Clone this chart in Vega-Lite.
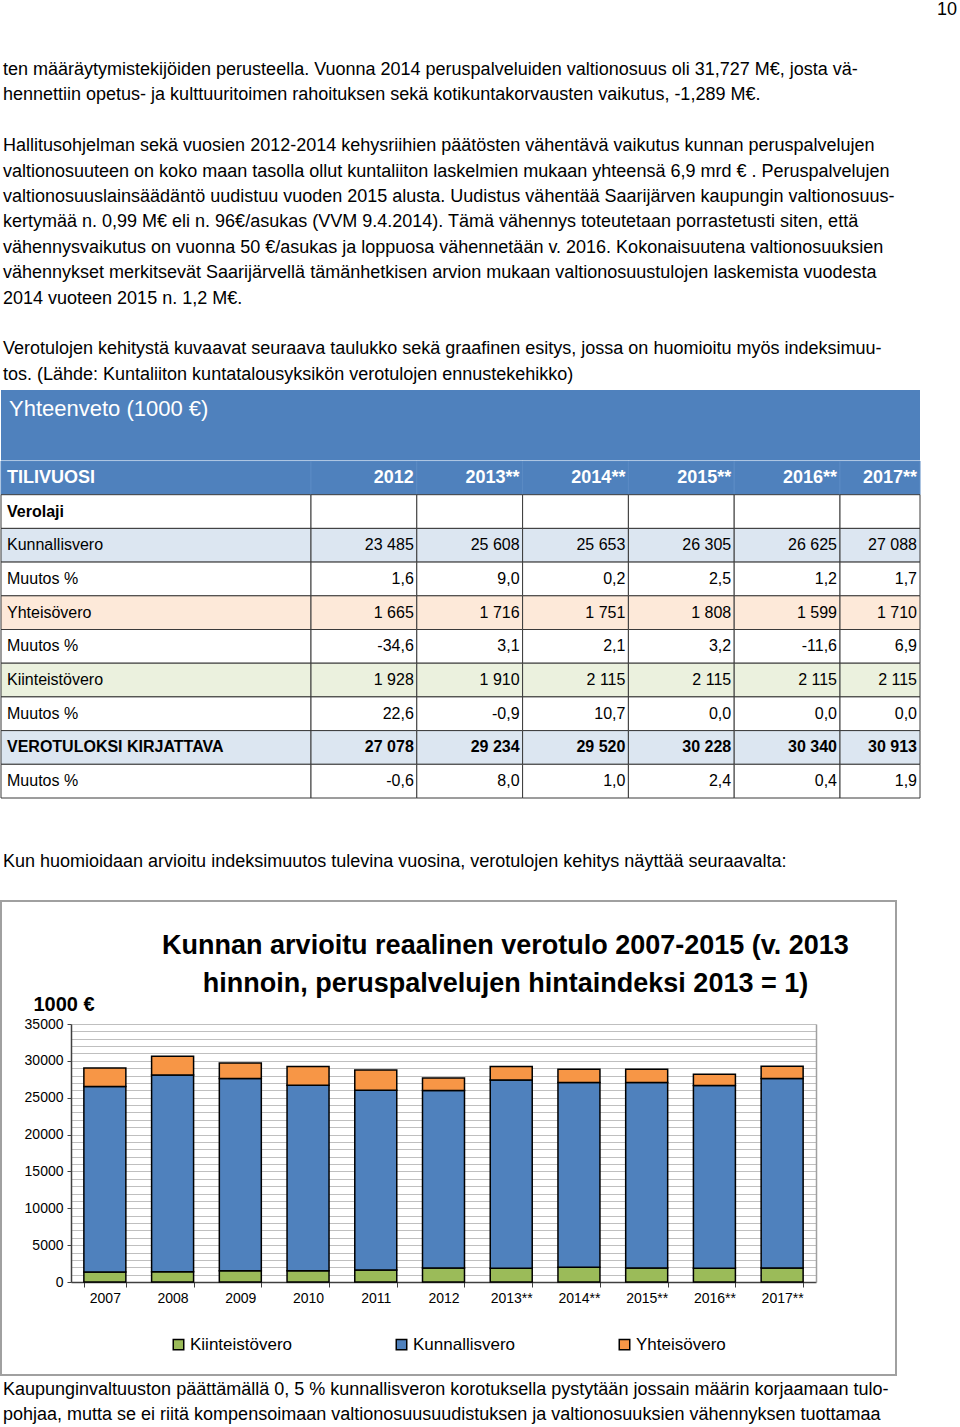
{
  "$schema": "https://vega.github.io/schema/vega-lite/v6.json",
  "padding": 0,
  "spacing": 0,
  "bounds": "full",
  "config": {"view": {"stroke": null}, "font": "Liberation Sans", "background": "white"},
  "datasets": {
    "top": [
      {"side": "right", "line": -2.36, "text": "10"},
      {"side": "left", "line": 0, "text": "ten määräytymistekijöiden perusteella.  Vuonna 2014 peruspalveluiden valtionosuus oli 31,727 M€, josta vä-"},
      {"side": "left", "line": 1, "text": "hennettiin opetus- ja kulttuuritoimen rahoituksen sekä kotikuntakorvausten vaikutus, -1,289 M€."},
      {"side": "left", "line": 3, "text": "Hallitusohjelman sekä vuosien 2012-2014 kehysriihien päätösten vähentävä vaikutus kunnan peruspalvelujen"},
      {"side": "left", "line": 4, "text": "valtionosuuteen on koko maan tasolla ollut kuntaliiton laskelmien mukaan yhteensä 6,9 mrd € . Peruspalvelujen"},
      {"side": "left", "line": 5, "text": "valtionosuuslainsäädäntö uudistuu vuoden 2015 alusta. Uudistus vähentää Saarijärven kaupungin valtionosuus-"},
      {"side": "left", "line": 6, "text": "kertymää n. 0,99 M€ eli n. 96€/asukas (VVM 9.4.2014). Tämä vähennys toteutetaan porrastetusti siten, että"},
      {"side": "left", "line": 7, "text": "vähennysvaikutus on vuonna 50 €/asukas ja loppuosa vähennetään v. 2016.  Kokonaisuutena valtionosuuksien"},
      {"side": "left", "line": 8, "text": "vähennykset merkitsevät Saarijärvellä tämänhetkisen arvion mukaan valtionosuustulojen laskemista vuodesta"},
      {"side": "left", "line": 9, "text": "2014 vuoteen 2015 n. 1,2 M€."},
      {"side": "left", "line": 11, "text": "Verotulojen kehitystä kuvaavat seuraava taulukko sekä graafinen esitys, jossa on huomioitu myös indeksimuu-"},
      {"side": "left", "line": 12, "text": "tos. (Lähde: Kuntaliiton kuntatalousyksikön verotulojen ennustekehikko)"}
    ],
    "mid": [
      {"side": "left", "line": 0, "text": "Kun huomioidaan arvioitu indeksimuutos tulevina vuosina, verotulojen kehitys näyttää seuraavalta:"}
    ],
    "bottom": [
      {"side": "left", "line": 0, "text": "Kaupunginvaltuuston päättämällä 0, 5 % kunnallisveron korotuksella pystytään jossain määrin korjaamaan tulo-"},
      {"side": "left", "line": 1, "text": "pohjaa, mutta se ei riitä kompensoimaan valtionosuusuudistuksen ja valtionosuuksien vähennyksen tuottamaa"}
    ],
    "rows": [
      {"id": 1, "label": "TILIVUOSI", "grp": "head"},
      {"id": 2, "label": "Verolaji", "grp": "plainb"},
      {"id": 3, "label": "Kunnallisvero", "grp": "kun"},
      {"id": 4, "label": "Muutos %", "grp": "plain"},
      {"id": 5, "label": "Yhteisövero", "grp": "yht"},
      {"id": 6, "label": "Muutos %", "grp": "plain"},
      {"id": 7, "label": "Kiinteistövero", "grp": "kii"},
      {"id": 8, "label": "Muutos %", "grp": "plain"},
      {"id": 9, "label": "VEROTULOKSI KIRJATTAVA", "grp": "tot"},
      {"id": 10, "label": "Muutos %", "grp": "plain"}
    ],
    "cells": [
      {"id": 1, "col": "2012", "v": "2012"}, {"id": 1, "col": "2013**", "v": "2013**"}, {"id": 1, "col": "2014**", "v": "2014**"}, {"id": 1, "col": "2015**", "v": "2015**"}, {"id": 1, "col": "2016**", "v": "2016**"}, {"id": 1, "col": "2017**", "v": "2017**"},
      {"id": 2, "col": "2012", "v": ""}, {"id": 2, "col": "2013**", "v": ""}, {"id": 2, "col": "2014**", "v": ""}, {"id": 2, "col": "2015**", "v": ""}, {"id": 2, "col": "2016**", "v": ""}, {"id": 2, "col": "2017**", "v": ""},
      {"id": 3, "col": "2012", "v": "23 485"}, {"id": 3, "col": "2013**", "v": "25 608"}, {"id": 3, "col": "2014**", "v": "25 653"}, {"id": 3, "col": "2015**", "v": "26 305"}, {"id": 3, "col": "2016**", "v": "26 625"}, {"id": 3, "col": "2017**", "v": "27 088"},
      {"id": 4, "col": "2012", "v": "1,6"}, {"id": 4, "col": "2013**", "v": "9,0"}, {"id": 4, "col": "2014**", "v": "0,2"}, {"id": 4, "col": "2015**", "v": "2,5"}, {"id": 4, "col": "2016**", "v": "1,2"}, {"id": 4, "col": "2017**", "v": "1,7"},
      {"id": 5, "col": "2012", "v": "1 665"}, {"id": 5, "col": "2013**", "v": "1 716"}, {"id": 5, "col": "2014**", "v": "1 751"}, {"id": 5, "col": "2015**", "v": "1 808"}, {"id": 5, "col": "2016**", "v": "1 599"}, {"id": 5, "col": "2017**", "v": "1 710"},
      {"id": 6, "col": "2012", "v": "-34,6"}, {"id": 6, "col": "2013**", "v": "3,1"}, {"id": 6, "col": "2014**", "v": "2,1"}, {"id": 6, "col": "2015**", "v": "3,2"}, {"id": 6, "col": "2016**", "v": "-11,6"}, {"id": 6, "col": "2017**", "v": "6,9"},
      {"id": 7, "col": "2012", "v": "1 928"}, {"id": 7, "col": "2013**", "v": "1 910"}, {"id": 7, "col": "2014**", "v": "2 115"}, {"id": 7, "col": "2015**", "v": "2 115"}, {"id": 7, "col": "2016**", "v": "2 115"}, {"id": 7, "col": "2017**", "v": "2 115"},
      {"id": 8, "col": "2012", "v": "22,6"}, {"id": 8, "col": "2013**", "v": "-0,9"}, {"id": 8, "col": "2014**", "v": "10,7"}, {"id": 8, "col": "2015**", "v": "0,0"}, {"id": 8, "col": "2016**", "v": "0,0"}, {"id": 8, "col": "2017**", "v": "0,0"},
      {"id": 9, "col": "2012", "v": "27 078"}, {"id": 9, "col": "2013**", "v": "29 234"}, {"id": 9, "col": "2014**", "v": "29 520"}, {"id": 9, "col": "2015**", "v": "30 228"}, {"id": 9, "col": "2016**", "v": "30 340"}, {"id": 9, "col": "2017**", "v": "30 913"},
      {"id": 10, "col": "2012", "v": "-0,6"}, {"id": 10, "col": "2013**", "v": "8,0"}, {"id": 10, "col": "2014**", "v": "1,0"}, {"id": 10, "col": "2015**", "v": "2,4"}, {"id": 10, "col": "2016**", "v": "0,4"}, {"id": 10, "col": "2017**", "v": "1,9"}
    ],
    "tax": [
      {"year": "2007", "type": "Kiinteistövero", "value": 1355}, {"year": "2007", "type": "Kunnallisvero", "value": 25155}, {"year": "2007", "type": "Yhteisövero", "value": 2530},
      {"year": "2008", "type": "Kiinteistövero", "value": 1400}, {"year": "2008", "type": "Kunnallisvero", "value": 26690}, {"year": "2008", "type": "Yhteisövero", "value": 2530},
      {"year": "2009", "type": "Kiinteistövero", "value": 1540}, {"year": "2009", "type": "Kunnallisvero", "value": 26060}, {"year": "2009", "type": "Yhteisövero", "value": 2120},
      {"year": "2010", "type": "Kiinteistövero", "value": 1540}, {"year": "2010", "type": "Kunnallisvero", "value": 25150}, {"year": "2010", "type": "Yhteisövero", "value": 2530},
      {"year": "2011", "type": "Kiinteistövero", "value": 1630}, {"year": "2011", "type": "Kunnallisvero", "value": 24390}, {"year": "2011", "type": "Yhteisövero", "value": 2750},
      {"year": "2012", "type": "Kiinteistövero", "value": 1900}, {"year": "2012", "type": "Kunnallisvero", "value": 24070}, {"year": "2012", "type": "Yhteisövero", "value": 1720},
      {"year": "2013**", "type": "Kiinteistövero", "value": 1850}, {"year": "2013**", "type": "Kunnallisvero", "value": 25570}, {"year": "2013**", "type": "Yhteisövero", "value": 1800},
      {"year": "2014**", "type": "Kiinteistövero", "value": 1990}, {"year": "2014**", "type": "Kunnallisvero", "value": 25070}, {"year": "2014**", "type": "Yhteisövero", "value": 1800},
      {"year": "2015**", "type": "Kiinteistövero", "value": 1900}, {"year": "2015**", "type": "Kunnallisvero", "value": 25160}, {"year": "2015**", "type": "Yhteisövero", "value": 1800},
      {"year": "2016**", "type": "Kiinteistövero", "value": 1850}, {"year": "2016**", "type": "Kunnallisvero", "value": 24800}, {"year": "2016**", "type": "Yhteisövero", "value": 1530},
      {"year": "2017**", "type": "Kiinteistövero", "value": 1900}, {"year": "2017**", "type": "Kunnallisvero", "value": 25700}, {"year": "2017**", "type": "Yhteisövero", "value": 1670}
    ]
  },
  "vconcat": [
    {
      "width": 957, "height": 390,
      "data": {"name": "top"},
      "mark": {"type": "text", "baseline": "middle", "fontSize": 18, "align": {"expr": "datum.side === 'right' ? 'right' : 'left'"}},
      "encoding": {
        "x": {"field": "side", "type": "nominal", "axis": null, "scale": {"type": "point", "domain": ["left", "right"], "range": [2, 956], "padding": 0}},
        "y": {"field": "line", "type": "quantitative", "axis": null, "scale": {"domain": [-2.756, 12.598], "reverse": true, "nice": false, "zero": false}},
        "text": {"field": "text"},
        "color": {"value": "black"}
      }
    },
    {
      "width": 919, "height": 70,
      "view": {"fill": "#4F81BD", "stroke": null},
      "data": {"values": [{"side": "left", "line": 0, "text": "Yhteenveto (1000 €)"}]},
      "mark": {"type": "text", "baseline": "middle", "align": "left", "fontSize": 22},
      "encoding": {
        "x": {"field": "side", "type": "nominal", "axis": null, "scale": {"type": "point", "domain": ["left", "right"], "range": [8, 900], "padding": 0}},
        "y": {"field": "line", "type": "quantitative", "axis": null, "scale": {"domain": [-0.748, 2.008], "reverse": true, "nice": false, "zero": false}},
        "text": {"field": "text"},
        "color": {"value": "white"}
      }
    },
    {
      "spacing": 0,
      "bounds": "flush",
      "hconcat": [
        {
          "width": 310, "height": 337,
          "data": {"name": "rows"},
          "encoding": {
            "y": {"field": "id", "type": "ordinal", "axis": null, "scale": {"paddingInner": 0, "paddingOuter": 0}}
          },
          "layer": [
            {
              "mark": {"type": "rect", "strokeWidth": 1},
              "encoding": {
                "fill": {"field": "grp", "type": "nominal", "legend": null, "scale": {"domain": ["head", "plainb", "kun", "plain", "yht", "kii", "tot"], "range": ["#4F81BD", "#FFFFFF", "#DCE6F1", "#FFFFFF", "#FDE9D9", "#EBF1DE", "#DCE6F1"]}},
                "stroke": {"condition": {"test": "datum.grp === 'head'", "value": "#5B8AC4"}, "value": "#3A3A3A"}
              }
            },
            {
              "mark": {"type": "text", "align": "left", "baseline": "middle", "fontWeight": {"expr": "(datum.grp === 'head' || datum.grp === 'tot' || datum.grp === 'plainb') ? 'bold' : 'normal'"}},
              "encoding": {
                "x": {"datum": "left", "type": "nominal", "axis": null, "scale": {"type": "point", "domain": ["left", "right"], "range": [6, 306], "padding": 0}},
                "text": {"field": "label"},
                "color": {"condition": {"test": "datum.grp === 'head'", "value": "white"}, "value": "black"},
                "size": {"condition": {"test": "datum.grp === 'head'", "value": 18}, "value": 16}
              }
            }
          ]
        },
        {
          "width": 529, "height": 337,
          "data": {"name": "cells"},
          "transform": [
            {"filter": "datum.col !== '2017**'"},
            {"lookup": "id", "from": {"data": {"name": "rows"}, "key": "id", "fields": ["grp"]}}
          ],
          "encoding": {
            "y": {"field": "id", "type": "ordinal", "axis": null, "scale": {"paddingInner": 0, "paddingOuter": 0}}
          },
          "layer": [
            {
              "mark": {"type": "rect", "strokeWidth": 1},
              "encoding": {
                "x": {"field": "col", "type": "ordinal", "sort": null, "axis": null, "scale": {"paddingInner": 0, "paddingOuter": 0}},
                "fill": {"field": "grp", "type": "nominal", "legend": null, "scale": {"domain": ["head", "plainb", "kun", "plain", "yht", "kii", "tot"], "range": ["#4F81BD", "#FFFFFF", "#DCE6F1", "#FFFFFF", "#FDE9D9", "#EBF1DE", "#DCE6F1"]}},
                "stroke": {"condition": {"test": "datum.grp === 'head'", "value": "#5B8AC4"}, "value": "#3A3A3A"}
              }
            },
            {
              "mark": {"type": "text", "align": "right", "baseline": "middle", "dx": -3, "fontWeight": {"expr": "(datum.grp === 'head' || datum.grp === 'tot') ? 'bold' : 'normal'"}},
              "encoding": {
                "x": {"field": "col", "type": "ordinal", "sort": null, "axis": null, "bandPosition": 1, "scale": {"paddingInner": 0, "paddingOuter": 0}},
                "text": {"field": "v"},
                "color": {"condition": {"test": "datum.grp === 'head'", "value": "white"}, "value": "black"},
                "size": {"condition": {"test": "datum.grp === 'head'", "value": 18}, "value": 16}
              }
            }
          ]
        },
        {
          "width": 80, "height": 337,
          "data": {"name": "cells"},
          "transform": [
            {"filter": "datum.col === '2017**'"},
            {"lookup": "id", "from": {"data": {"name": "rows"}, "key": "id", "fields": ["grp"]}}
          ],
          "encoding": {
            "y": {"field": "id", "type": "ordinal", "axis": null, "scale": {"paddingInner": 0, "paddingOuter": 0}}
          },
          "layer": [
            {
              "mark": {"type": "rect", "strokeWidth": 1},
              "encoding": {
                "x": {"field": "col", "type": "ordinal", "sort": null, "axis": null, "scale": {"paddingInner": 0, "paddingOuter": 0}},
                "fill": {"field": "grp", "type": "nominal", "legend": null, "scale": {"domain": ["head", "plainb", "kun", "plain", "yht", "kii", "tot"], "range": ["#4F81BD", "#FFFFFF", "#DCE6F1", "#FFFFFF", "#FDE9D9", "#EBF1DE", "#DCE6F1"]}},
                "stroke": {"condition": {"test": "datum.grp === 'head'", "value": "#5B8AC4"}, "value": "#3A3A3A"}
              }
            },
            {
              "mark": {"type": "text", "align": "right", "baseline": "middle", "dx": -3, "fontWeight": {"expr": "(datum.grp === 'head' || datum.grp === 'tot') ? 'bold' : 'normal'"}},
              "encoding": {
                "x": {"field": "col", "type": "ordinal", "sort": null, "axis": null, "bandPosition": 1, "scale": {"paddingInner": 0, "paddingOuter": 0}},
                "text": {"field": "v"},
                "color": {"condition": {"test": "datum.grp === 'head'", "value": "white"}, "value": "black"},
                "size": {"condition": {"test": "datum.grp === 'head'", "value": 18}, "value": 16}
              }
            }
          ]
        }
      ]
    },
    {
      "width": 957, "height": 101,
      "data": {"name": "mid"},
      "mark": {"type": "text", "baseline": "middle", "fontSize": 18, "align": "left"},
      "encoding": {
        "x": {"field": "side", "type": "nominal", "axis": null, "scale": {"type": "point", "domain": ["left", "right"], "range": [2, 956], "padding": 0}},
        "y": {"field": "line", "type": "quantitative", "axis": null, "scale": {"domain": [-2.48, 1.496], "reverse": true, "nice": false, "zero": false}},
        "text": {"field": "text"},
        "color": {"value": "black"}
      }
    },
    {
      "width": 895, "height": 474,
      "view": {"stroke": "#A0A0A0", "strokeWidth": 2},
      "data": {"name": "tax"},
      "title": {
        "text": ["Kunnan arvioitu reaalinen verotulo 2007-2015 (v. 2013", "hinnoin, peruspalvelujen hintaindeksi 2013 = 1)"],
        "anchor": "middle", "frame": "group", "orient": "top",
        "offset": -97, "dx": 57, "fontSize": 27, "fontWeight": "bold", "lineHeight": 38, "color": "black"
      },
      "layer": [
        {
          "mark": {"type": "bar", "stroke": "black", "strokeWidth": 1.5},
          "encoding": {
            "x": {
              "field": "year", "type": "ordinal", "sort": null,
              "scale": {"range": [70, 815], "paddingInner": 0.38, "paddingOuter": 0.19},
              "axis": {"orient": "bottom", "offset": -93, "title": null, "labelAngle": 0, "tickBand": "extent", "tickSize": 5, "tickColor": "#404040", "domainColor": "#404040", "domainWidth": 1.5, "labelFontSize": 14, "labelPadding": 4, "labelColor": "black", "grid": false}
            },
            "y": {
              "field": "value", "type": "quantitative", "stack": "zero",
              "scale": {"domain": [0, 35000], "range": [381, 123], "nice": false},
              "axis": {
                "orient": "left", "offset": -70,
                "values": [0, 1000, 2000, 3000, 4000, 5000, 6000, 7000, 8000, 9000, 10000, 11000, 12000, 13000, 14000, 15000, 16000, 17000, 18000, 19000, 20000, 21000, 22000, 23000, 24000, 25000, 26000, 27000, 28000, 29000, 30000, 31000, 32000, 33000, 34000, 35000],
                "format": "d",
                "labelExpr": "datum.value % 5000 === 0 ? datum.label : ''",
                "tickSize": 4,
                "tickColor": "#404040",
                "tickOpacity": {"condition": {"test": "datum.value % 5000 === 0", "value": 1}, "value": 0},
                "grid": true, "gridColor": "#BFBFBF", "gridWidth": 1.2,
                "domainColor": "#404040", "domainWidth": 1.5,
                "labelFontSize": 14, "labelColor": "black", "labelPadding": 4,
                "title": "1000 €", "titleAngle": 0, "titleFontSize": 20, "titleFontWeight": "bold", "titleColor": "black",
                "titleX": -38, "titleY": 103, "titleAlign": "left", "titleBaseline": "middle"
              }
            },
            "color": {
              "field": "type", "type": "nominal",
              "scale": {"domain": ["Kiinteistövero", "Kunnallisvero", "Yhteisövero"], "range": ["#9BBB59", "#4F81BD", "#F79646"]},
              "legend": {"orient": "none", "legendX": 169, "legendY": 1336, "direction": "horizontal", "title": null, "symbolType": "square", "symbolSize": 110, "symbolStrokeColor": "black", "symbolStrokeWidth": 1.5, "symbolOpacity": 1, "labelFontSize": 17, "labelColor": "black", "labelOffset": 3, "gridAlign": "all", "columnPadding": 100}
            },
            "order": {"field": "type", "sort": "ascending"}
          }
        },
        {
          "mark": {"type": "bar", "opacity": 0},
          "encoding": {
            "x": {"field": "year", "type": "ordinal", "sort": null},
            "y": {"field": "value", "type": "quantitative", "stack": "zero", "axis": {"orient": "right", "offset": -80, "domainColor": "#A0A0A0", "domainWidth": 1.5, "ticks": false, "labels": false, "grid": false, "title": null}}
          }
        }
      ],
      "resolve": {"axis": {"y": "independent"}}
    },
    {
      "width": 957, "height": 55,
      "data": {"name": "bottom"},
      "mark": {"type": "text", "baseline": "middle", "fontSize": 18, "align": "left"},
      "encoding": {
        "x": {"field": "side", "type": "nominal", "axis": null, "scale": {"type": "point", "domain": ["left", "right"], "range": [2, 956], "padding": 0}},
        "y": {"field": "line", "type": "quantitative", "axis": null, "scale": {"domain": [-0.55, 1.615], "reverse": true, "nice": false, "zero": false}},
        "text": {"field": "text"},
        "color": {"value": "black"}
      }
    }
  ]
}
